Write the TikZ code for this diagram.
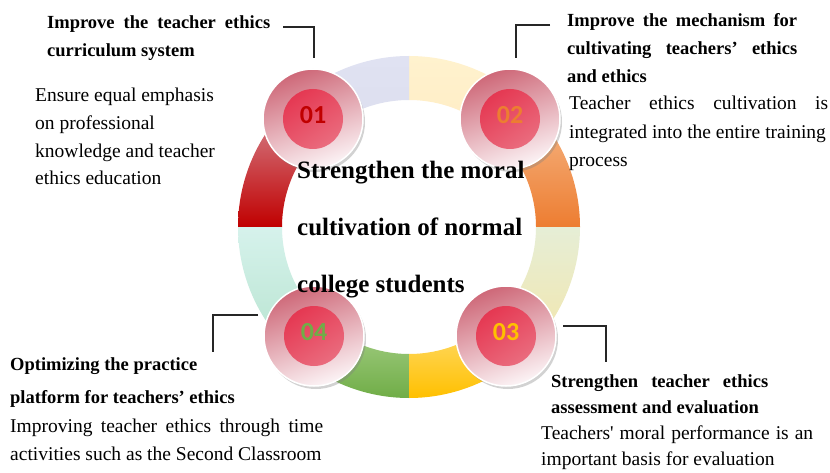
\documentclass[tikz,border=0pt]{standalone}
\usepackage{fontspec}
\setmainfont{Liberation Serif}
\newfontfamily\numfont{Carlito}
\usetikzlibrary{shadows}
\definecolor{numred}{RGB}{192,0,0}
\definecolor{numorange}{RGB}{237,125,49}
\definecolor{numgold}{RGB}{255,192,0}
\definecolor{numgreen}{RGB}{112,173,71}
\definecolor{discred}{RGB}{229,56,82}
\definecolor{discpink}{RGB}{234,108,126}
\definecolor{rimrose}{RGB}{206,104,120}
\definecolor{rimwhite}{RGB}{252,244,246}
\definecolor{sAt}{RGB}{246,184,136}\definecolor{sAb}{RGB}{237,125,49}
\definecolor{sBt}{RGB}{255,242,206}\definecolor{sBb}{RGB}{255,236,196}
\definecolor{sCt}{RGB}{224,226,242}\definecolor{sCb}{RGB}{220,222,238}
\definecolor{sDt}{RGB}{214,136,146}\definecolor{sDb}{RGB}{192,0,0}
\definecolor{sEt}{RGB}{214,242,236}\definecolor{sEb}{RGB}{184,228,208}
\definecolor{sFt}{RGB}{170,210,140}\definecolor{sFb}{RGB}{112,173,71}
\definecolor{sGt}{RGB}{255,222,120}\definecolor{sGb}{RGB}{255,192,0}
\definecolor{sHt}{RGB}{230,238,214}\definecolor{sHb}{RGB}{242,230,172}
\newcommand\myseg[4]{%
  \shade[top color=#3,bottom color=#4]
    ([shift={(#1:\Ro)}]C) arc[start angle=#1,end angle=#2,radius=\Ro]
    -- ([shift={(#2:\Ri)}]C) arc[start angle=#2,end angle=#1,radius=\Ri] -- cycle;}
\begin{document}
\begin{tikzpicture}[x=1pt,y=1pt,
  outerdisc/.style={circle,minimum size=100,inner sep=0,draw=white,line width=1.5,
    top color=rimrose,bottom color=rimwhite,shading angle=20,
    drop shadow={opacity=0.35,shadow xshift=2,shadow yshift=-3}},
  innerdisc/.style={circle,minimum size=60,inner sep=0,
    top color=discred,bottom color=discpink,shading angle=35},
  numtext/.style={font=\numfont\fontsize{26}{26}\selectfont\bfseries,inner sep=0},
  ttl/.style={anchor=base west,inner sep=0,align=left},
  body/.style={anchor=base west,inner sep=0,align=left},
  callout/.style={draw=black!85,line width=1.2}]
\useasboundingbox (0,0) rectangle (830,472);
\fill[white] (0,0) rectangle (830,472);
\coordinate (C) at (409,245);
\def\Ro{171}\def\Ri{127}
% ring
\myseg{0}{45}{sAt}{sAb}
\myseg{45}{90}{sBt}{sBb}
\myseg{90}{135}{sCt}{sCb}
\myseg{135}{180}{sDt}{sDb}
\myseg{180}{225}{sEt}{sEb}
\myseg{225}{270}{sFt}{sFb}
\myseg{270}{315}{sGt}{sGb}
\myseg{315}{360}{sHt}{sHb}
% discs
\node[outerdisc] (o1) at (313,353) {};
\node[outerdisc] (o2) at (510,353) {};
\node[outerdisc] (o3) at (506,136) {};
\node[outerdisc] (o4) at (314,136) {};
\node[innerdisc] (c1) at (o1) {};
\node[innerdisc] (c2) at (o2) {};
\node[innerdisc] (c3) at (o3) {};
\node[innerdisc] (c4) at (o4) {};
\node[numtext,text=numred] (n1) at ([yshift=4]c1.center) {01};
\node[numtext,text=numorange] (n2) at ([yshift=4]c2.center) {02};
\node[numtext,text=numgold] (n3) at ([yshift=4]c3.center) {03};
\node[numtext,text=numgreen] (n4) at ([yshift=4]c4.center) {04};
% centre text
\node[ttl,font=\fontsize{25}{57}\selectfont\bfseries] (ctr) at (297,180)
  {Strengthen the moral\\cultivation of normal\\college students};
% callout texts
\node[ttl,font=\fontsize{18.5}{28}\selectfont\bfseries] (t1) at (47,415)
  {\hbox to 223pt{Improve the teacher ethics}\\curriculum system};
\node[body,font=\fontsize{19.5}{27.7}\selectfont] (b1) at (35,287)
  {Ensure equal emphasis\\on professional\\knowledge and teacher\\ethics education};
\node[ttl,font=\fontsize{18.5}{28}\selectfont\bfseries] (t2) at (567,389)
  {\hbox to 230pt{Improve the mechanism for}\\\hbox to 230pt{cultivating teachers’ ethics}\\and ethics};
\node[body,font=\fontsize{19.5}{28.5}\selectfont] (b2) at (569,305)
  {\hbox to 259pt{Teacher ethics cultivation is}\\integrated into the entire training\\process};
\node[ttl,font=\fontsize{18.5}{26}\selectfont\bfseries] (t3) at (551,59)
  {\hbox to 217pt{Strengthen teacher ethics}\\assessment and evaluation};
\node[body,font=\fontsize{19.5}{26}\selectfont] (b3) at (541,7)
  {\hbox to 272pt{Teachers\textquotesingle\ moral performance is an}\\important basis for evaluation};
\node[ttl,font=\fontsize{18.5}{33}\selectfont\bfseries] (t4) at (10,69)
  {Optimizing the practice\\platform for teachers’ ethics};
\node[body,font=\fontsize{19.5}{28}\selectfont] (b4) at (10,12)
  {\hbox to 313pt{Improving teacher ethics through time}\\activities such as the Second Classroom};
% connectors
\coordinate (k1a) at (283,445); \coordinate (k1b) at (314,414);
\coordinate (k2a) at (550,447); \coordinate (k2b) at (516,414);
\coordinate (k3a) at (563,146); \coordinate (k3b) at (606,110);
\coordinate (k4a) at (258,157); \coordinate (k4b) at (213,120);
\draw[callout] (k1a) -| (k1b);
\draw[callout] (k2a) -| (k2b);
\draw[callout] (k3a) -| (k3b);
\draw[callout] (k4a) -| (k4b);
\end{tikzpicture}
\end{document}
